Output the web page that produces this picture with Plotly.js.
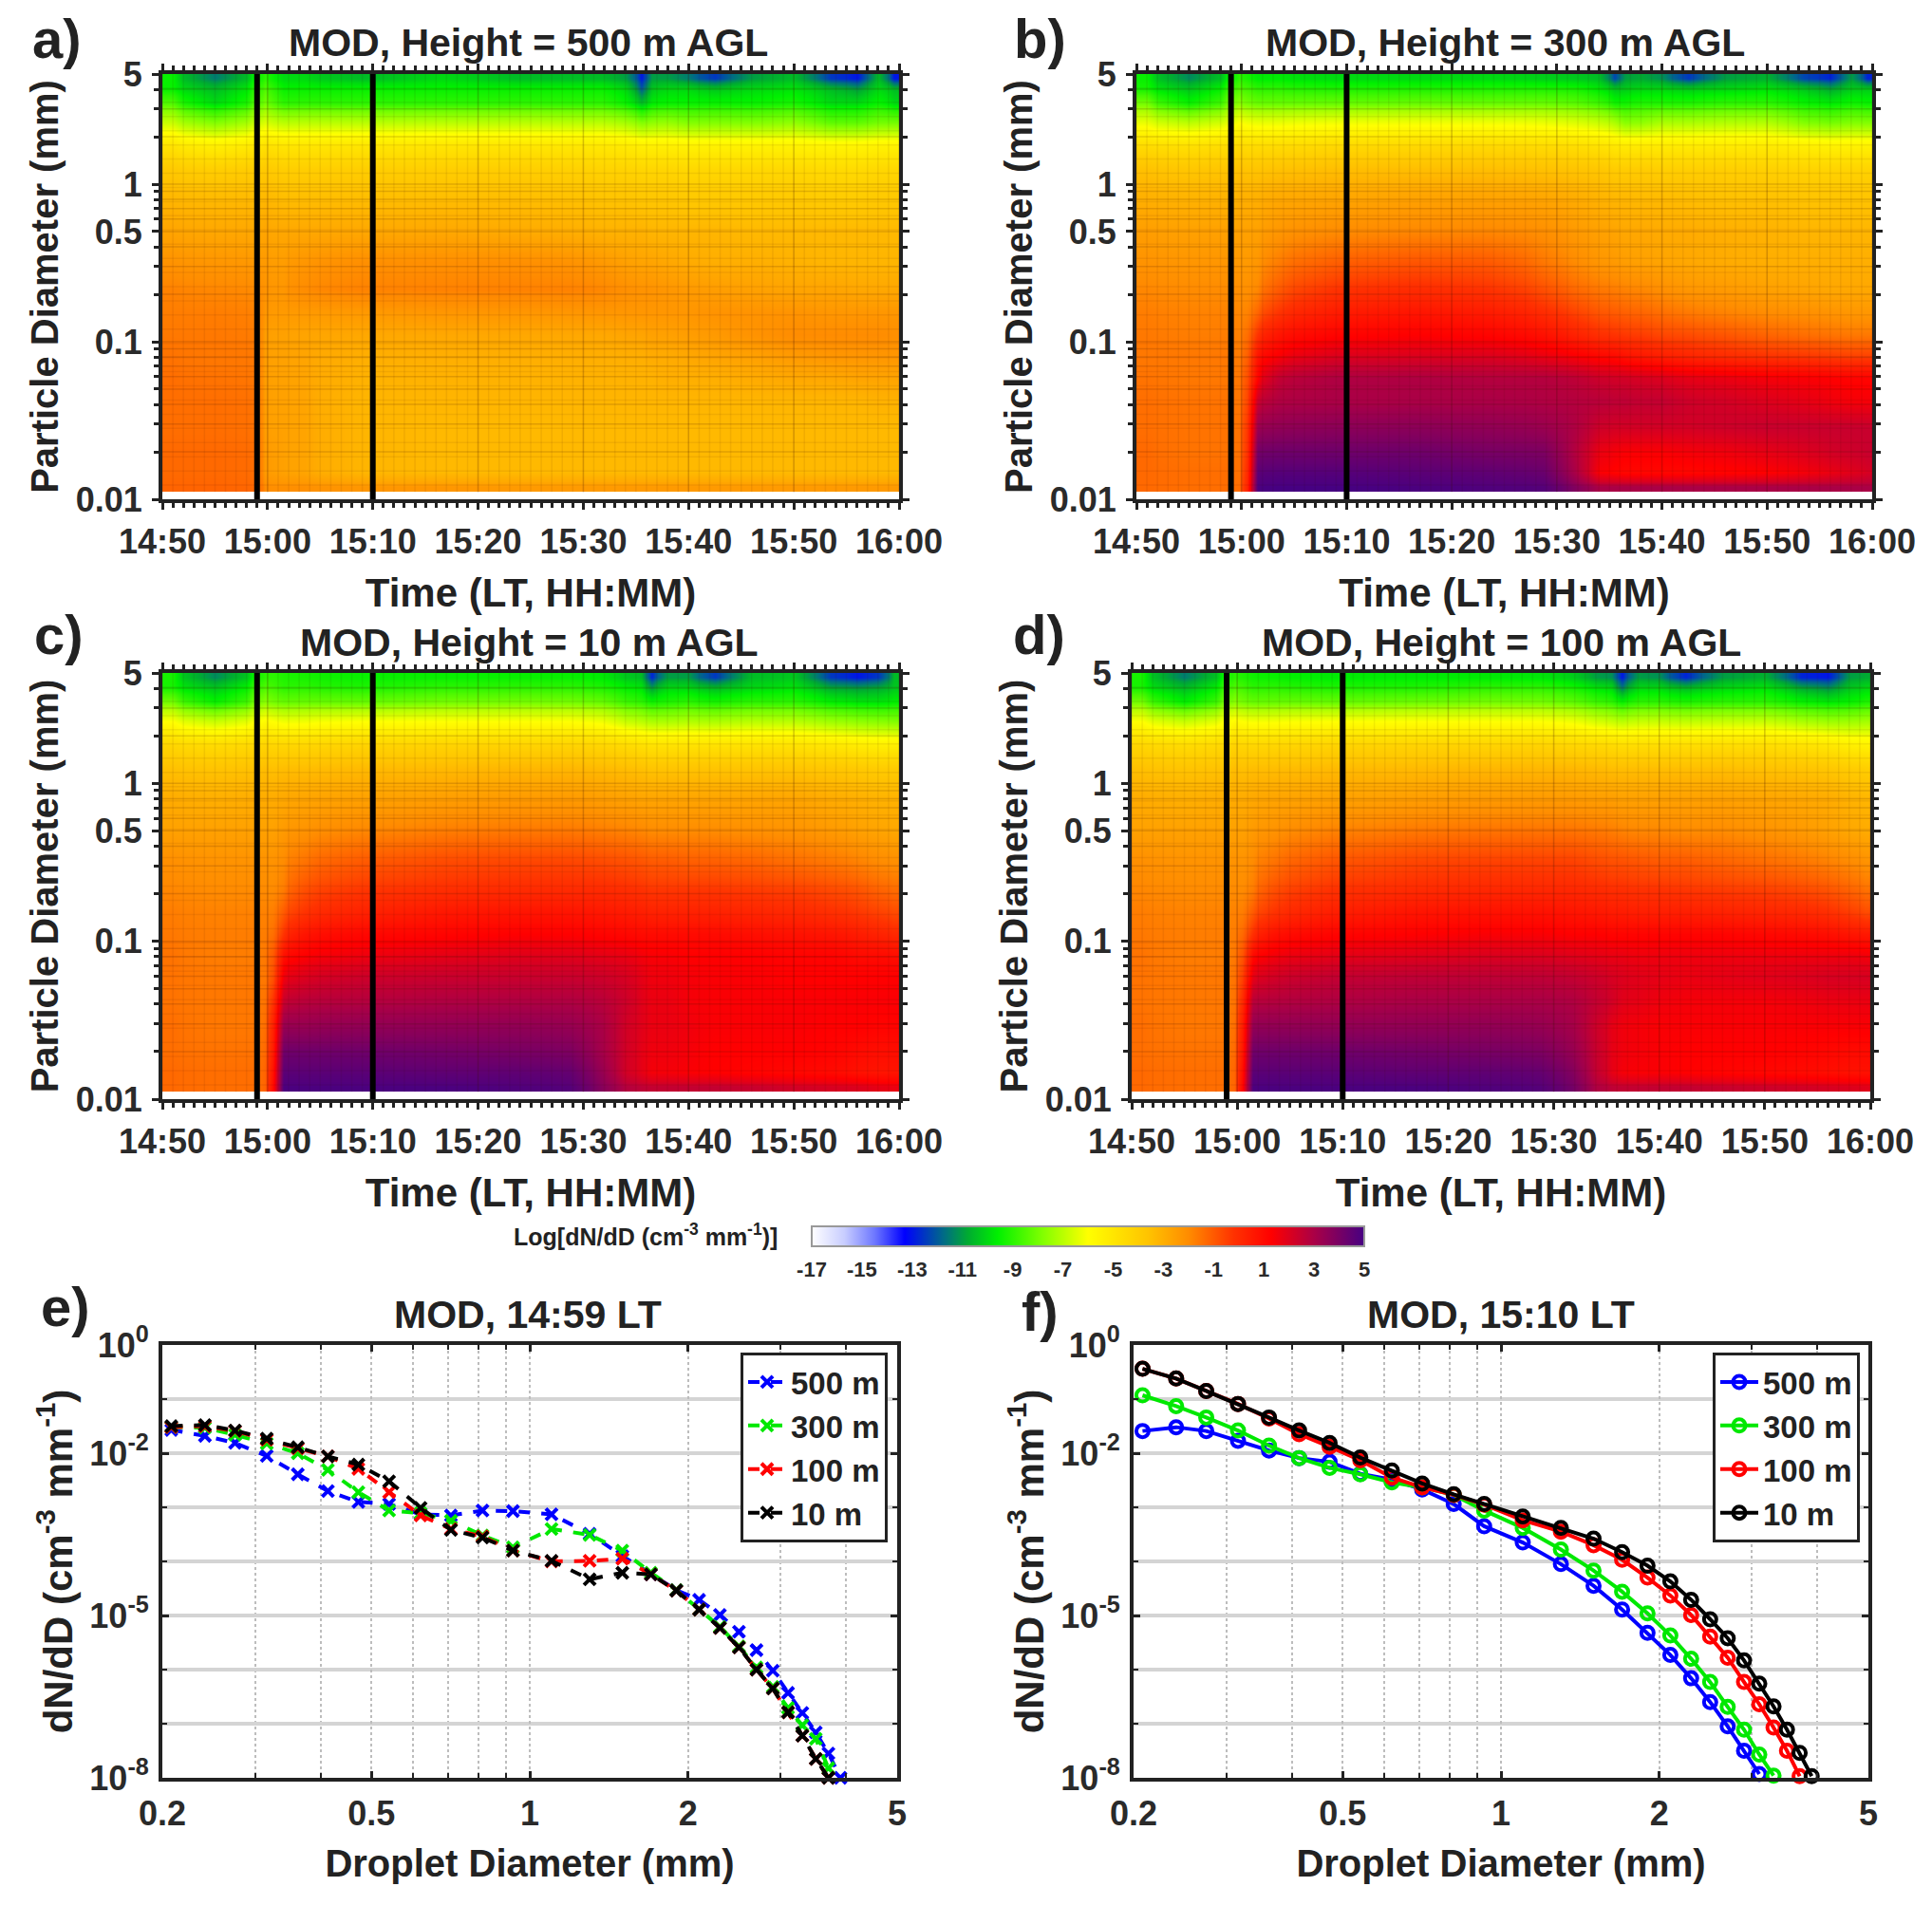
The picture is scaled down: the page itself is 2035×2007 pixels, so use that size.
<!DOCTYPE html>
<html>
<head>
<meta charset="utf-8">
<script src="https://cdn.plot.ly/plotly-3.0.1.min.js"></script>
<style>body{margin:0;background:#fff}</style>
</head>
<body>
<div id="chart"></div>
<script>
var W = 2035, H = 2007;
var FONT = '"Liberation Sans", Arial, sans-serif';

// heatmap cell edges: minutes after 14:50, particle diameter (mm)
var timeEdges = [0,2,8,9.5,10,11,12,15,23,30,37,40.5,43,45,46,47,49,51,54,58,62,65,67,69,70];
var diamEdges = [0.0111,0.013,0.017,0.024,0.035,0.05,0.07,0.095,0.13,0.18,0.26,0.4,0.63,1,1.5,2.1,2.9,3.7,4.4,5];
var markTimes = [9,20];
var timeTicks = [0,10,20,30,40,50,60,70];
var timeLabels = ['14:50','15:00','15:10','15:20','15:30','15:40','15:50','16:00'];
var diamTicks = [0.01,0.1,0.5,1,5];
var diamMinor = [0.02,0.03,0.04,0.05,0.06,0.07,0.08,0.09,0.2,0.3,0.4,0.6,0.7,0.8,0.9,2,3,4];

var z500 = [
[-9.5,-11.5,-9.5,-9,-9.5,-10,-10,-10.5,-10,-10.5,-10.5,-10.5,-11,-13,-11,-11,-11.5,-12.5,-11,-10.5,-12.5,-13,-10.5,-13],
[-9.5,-10.5,-9,-8.5,-9,-9.5,-9.5,-9.5,-9.5,-9.5,-9.5,-9.5,-10,-12,-10.3,-10,-10,-10.3,-10,-9.8,-10.5,-11,-10,-10.5],
[-8.5,-10,-8.5,-8,-8.5,-9,-9,-9,-9,-9,-9,-9,-9.5,-10.5,-9.7,-9.5,-9.5,-9.5,-9.5,-9.3,-10,-10,-9.5,-10],
[-6.8,-7.8,-6.8,-6.5,-6.8,-7,-7,-7,-7,-7,-7,-7,-7.3,-7.8,-7.6,-7.5,-7.8,-7.8,-7.8,-7.6,-8.3,-8.3,-8,-8],
[-4.9,-5.4,-5,-4.8,-4.9,-5,-5,-5,-5,-5,-5.1,-5.1,-5.2,-5.4,-5.4,-5.4,-5.5,-5.5,-5.5,-5.5,-5.6,-5.6,-5.5,-5.5],
[-3.8,-4,-3.9,-3.8,-3.9,-4,-4,-4,-4,-4,-4.1,-4.2,-4.2,-4.3,-4.3,-4.3,-4.4,-4.4,-4.4,-4.4,-4.5,-4.5,-4.4,-4.4],
[-3.2,-3.3,-3.3,-3.2,-3.3,-3.4,-3.4,-3.4,-3.4,-3.4,-3.5,-3.6,-3.6,-3.7,-3.7,-3.7,-3.8,-3.8,-3.8,-3.8,-3.9,-3.9,-3.8,-3.8],
[-2.7,-2.8,-2.8,-2.7,-2.8,-2.8,-2.8,-2.8,-2.8,-2.9,-3,-3.1,-3.1,-3.1,-3.2,-3.2,-3.2,-3.2,-3.3,-3.3,-3.3,-3.3,-3.3,-3.3],
[-2.2,-2.3,-2.4,-2.4,-2.5,-2.5,-2.3,-2.1,-2.1,-2.1,-2.2,-2.4,-2.6,-2.7,-2.7,-2.8,-2.9,-3,-3,-3.1,-3.2,-3.2,-3.2,-3.2],
[-1.8,-1.9,-2,-2.2,-2.3,-2.3,-2,-1.8,-1.8,-1.8,-1.8,-1.9,-2.1,-2.2,-2.2,-2.3,-2.4,-2.5,-2.6,-2.7,-2.7,-2.8,-2.8,-2.8],
[-1.7,-1.7,-1.8,-2.3,-2.4,-2.4,-2.4,-2.4,-2.3,-2.3,-2.3,-2.3,-2.3,-2.3,-2.3,-2.3,-2.3,-2.2,-2.2,-2.2,-2.3,-2.3,-2.3,-2.3],
[-1.6,-1.6,-1.7,-2.5,-2.6,-2.6,-2.7,-2.8,-2.8,-2.8,-2.8,-2.8,-2.7,-2.7,-2.6,-2.6,-2.5,-2.4,-2.2,-2,-2,-2,-2,-2.1],
[-1.5,-1.6,-1.6,-2.5,-2.6,-2.6,-2.7,-3,-3,-3,-3,-3,-3,-3,-2.9,-2.9,-2.8,-2.7,-2.6,-2.4,-2.3,-2.3,-2.3,-2.3],
[-1.4,-1.5,-1.6,-2.5,-2.6,-2.6,-2.7,-3.1,-3.1,-3.1,-3.1,-3.1,-3.1,-3.1,-3.1,-3,-3,-3,-2.9,-2.8,-2.8,-2.7,-2.7,-2.7],
[-1.4,-1.4,-1.5,-2.5,-2.6,-2.6,-2.7,-3.2,-3.2,-3.2,-3.2,-3.2,-3.2,-3.2,-3.2,-3.2,-3.2,-3.2,-3.2,-3.2,-3.2,-3.2,-3.1,-3.1],
[-1.4,-1.4,-1.5,-2.5,-2.6,-2.6,-2.7,-3.2,-3.3,-3.3,-3.3,-3.3,-3.3,-3.3,-3.3,-3.3,-3.3,-3.3,-3.3,-3.3,-3.3,-3.3,-3.3,-3.3],
[-1.3,-1.3,-1.4,-2.4,-2.5,-2.6,-2.7,-3.2,-3.3,-3.3,-3.3,-3.3,-3.3,-3.3,-3.3,-3.3,-3.3,-3.3,-3.3,-3.3,-3.3,-3.3,-3.3,-3.3],
[-1.3,-1.3,-1.4,-2.4,-2.5,-2.6,-2.7,-3.2,-3.3,-3.3,-3.3,-3.3,-3.3,-3.3,-3.3,-3.3,-3.3,-3.3,-3.3,-3.3,-3.3,-3.3,-3.3,-3.3],
[-1.2,-1.2,-1.3,-2,-2.1,-2.1,-2.1,-2.3,-2.3,-2.4,-2.4,-2.4,-2.4,-2.4,-2.4,-2.4,-2.4,-2.4,-2.4,-2.4,-2.4,-2.4,-2.4,-2.4]
];
var z300 = [
[-9.5,-11.3,-9.5,-9,-9.3,-9.7,-9.7,-10,-10,-10,-10.2,-10.3,-10.5,-12.3,-11,-10.8,-11.2,-12.5,-11,-10.7,-12.3,-12.8,-11,-12.8],
[-9.3,-10.3,-8.8,-8.5,-8.7,-9,-9,-9.2,-9.2,-9.2,-9.2,-9.3,-9.7,-10.3,-10.2,-10,-10,-10.2,-10,-9.8,-10.3,-10.8,-10.2,-10.2],
[-8,-9.5,-8,-7.7,-8,-8.2,-8.2,-8.2,-8.2,-8.2,-8.2,-8.4,-8.8,-9.4,-9.4,-9.2,-9.2,-9.2,-9,-9,-9.5,-9.7,-9.4,-9.5],
[-6.3,-7,-6.3,-6,-6.2,-6.3,-6.3,-6.2,-6.2,-6.2,-6.3,-6.5,-6.8,-7.2,-7.7,-7.6,-7.2,-7.2,-7.1,-7.1,-7.8,-8,-7.8,-7.8],
[-4.6,-4.8,-4.6,-4.5,-4.6,-4.6,-4.6,-4.5,-4.5,-4.5,-4.6,-4.7,-4.9,-5.1,-5.2,-5.2,-5.2,-5.2,-5.2,-5.2,-5.4,-5.5,-5.5,-5.5],
[-3.5,-3.7,-3.6,-3.5,-3.6,-3.6,-3.5,-3.4,-3.4,-3.4,-3.5,-3.6,-3.7,-3.9,-3.9,-3.9,-4,-4,-4,-4.1,-4.2,-4.2,-4.2,-4.2],
[-3,-3.1,-3.1,-3,-3,-3,-2.8,-2.7,-2.6,-2.6,-2.7,-2.9,-3.1,-3.2,-3.2,-3.3,-3.3,-3.4,-3.5,-3.5,-3.6,-3.6,-3.6,-3.6],
[-2.5,-2.6,-2.6,-2.6,-2.6,-2.6,-2.3,-2,-1.9,-1.9,-2.1,-2.4,-2.6,-2.7,-2.8,-2.8,-2.9,-2.9,-3,-3.1,-3.2,-3.2,-3.2,-3.2],
[-2.2,-2.3,-2.3,-2.4,-2.4,-2.3,-1.7,-1.1,-.9,-1,-1.6,-2,-2.3,-2.4,-2.5,-2.6,-2.7,-2.8,-2.9,-3,-3,-3,-3,-3],
[-1.9,-2,-2,-2.1,-2.1,-1.9,-1,-.2,0,-.2,-.8,-1.3,-1.6,-1.7,-1.8,-1.9,-2.1,-2.3,-2.4,-2.6,-2.7,-2.8,-2.8,-2.8],
[-1.7,-1.8,-1.8,-1.9,-1.8,-1.2,-.2,.5,.7,.5,0,-.5,-.9,-1,-1.1,-1.2,-1.4,-1.6,-1.8,-2,-2.1,-2.2,-2.3,-2.3],
[-1.6,-1.7,-1.7,-1.8,-1.4,-.2,.7,1.2,1.3,1.2,.8,.3,-.1,-.2,-.3,-.4,-.6,-.7,-.9,-1.2,-1.4,-1.5,-1.6,-1.6],
[-1.6,-1.6,-1.6,-1.7,-1.1,.7,1.4,2,2,2,1.7,1.4,1.1,1,.8,.6,.4,.2,0,-.2,-.3,-.4,-.5,-.5],
[-1.5,-1.6,-1.6,-1.6,-.8,1.2,2.5,2.9,2.9,2.8,2.8,2.6,2.3,2.2,2.2,2.1,2,1.8,1.7,1.5,1.4,1.3,1.2,1.2],
[-1.4,-1.5,-1.5,-1.6,-.6,2.4,2.9,3,3,3,2.9,2.8,2.7,2.6,2.6,2.5,2.5,2.3,2.2,2,1.8,1.6,1.5,1.5],
[-1.4,-1.5,-1.5,-1.5,-.3,3.3,3.5,3.6,3.6,3.5,3.3,2.9,2.3,2.2,2.2,2.2,2.2,2.2,2.3,2.4,2.4,2.4,2.4,2.4],
[-1.3,-1.5,-1.5,-1.5,-.2,4.1,4.2,4.2,4.2,4,3.9,2.8,1.7,1.5,1.4,1.4,1.4,1.5,1.6,1.8,2,2.2,2.3,2.4],
[-1.3,-1.4,-1.4,-1.5,0,4.6,4.7,4.7,4.6,4.5,4.3,3,1.4,1.2,1.1,1.1,1.1,1.1,1.2,1.3,1.5,1.7,1.9,2.1],
[-1.3,-1.4,-1.4,-1.4,.2,4.9,5,5,4.9,4.8,4.7,3.8,3,3,3,3,3,3,3,3,3,3,3,3]
];
var z10 = [
[-9.3,-11.3,-9.3,-9,-9,-9.2,-9.3,-9.5,-9.5,-9.5,-9.5,-9.7,-10.3,-10.5,-12.8,-11,-11,-12.5,-10.5,-10.3,-12.5,-13,-12.5,-10.5],
[-9.3,-10.3,-8.8,-8.5,-8.7,-9,-9,-9.2,-9,-9,-9,-9.2,-9.6,-9.8,-11,-10,-10,-10.5,-10,-9.8,-10.8,-11,-10.8,-10.3],
[-8,-9.5,-8,-7.7,-8,-8.2,-8.2,-8.2,-8,-8,-8,-8.2,-8.8,-9,-9.4,-9.2,-9,-9.3,-9,-9,-9.6,-9.8,-9.8,-9.6],
[-6,-6.8,-6,-5.8,-6,-6.2,-6.2,-6,-6,-6,-6,-6.2,-6.8,-7,-7.2,-7.2,-7.1,-7.2,-7,-7,-7.4,-7.6,-7.7,-7.8],
[-4.4,-4.6,-4.4,-4.3,-4.4,-4.4,-4.4,-4.3,-4.3,-4.3,-4.3,-4.4,-4.6,-4.8,-4.9,-4.9,-4.9,-4.9,-4.9,-4.9,-5.1,-5.3,-5.4,-5.4],
[-3.5,-3.6,-3.5,-3.4,-3.5,-3.4,-3.4,-3.3,-3.3,-3.2,-3.2,-3.3,-3.4,-3.5,-3.6,-3.6,-3.6,-3.6,-3.6,-3.6,-3.7,-3.8,-3.9,-3.9],
[-2.9,-3,-2.9,-2.9,-2.9,-2.8,-2.7,-2.6,-2.5,-2.4,-2.4,-2.5,-2.6,-2.7,-2.7,-2.7,-2.7,-2.7,-2.7,-2.7,-2.9,-3,-3.1,-3.1],
[-2.6,-2.6,-2.6,-2.6,-2.6,-2.4,-2.2,-1.9,-1.7,-1.6,-1.6,-1.7,-1.8,-1.9,-2,-2,-2,-2,-2.1,-2.2,-2.4,-2.6,-2.7,-2.8],
[-2.1,-2.2,-2.2,-2.2,-2.2,-2,-1.5,-1,-.7,-.6,-.6,-.7,-.8,-.9,-1,-1,-1.1,-1.1,-1.2,-1.4,-1.6,-1.8,-2,-2.1],
[-1.9,-2,-2,-2,-2,-1.7,-.8,-.3,-.1,0,0,0,-.1,-.2,-.3,-.3,-.3,-.3,-.4,-.5,-.7,-.9,-1.2,-1.4],
[-1.7,-1.8,-1.8,-1.8,-1.7,-1,-.2,.3,.6,.7,.7,.6,.5,.4,.3,.3,.3,.3,.2,.1,-.1,-.3,-.5,-.7],
[-1.6,-1.7,-1.7,-1.7,-1.4,-.2,.7,1.1,1.2,1.3,1.3,1.2,1.1,1,1,1,1,1,.9,.8,.7,.5,.3,.1],
[-1.5,-1.7,-1.7,-1.6,-1,.8,1.3,1.6,1.8,1.9,1.9,1.8,1.7,1.5,1.4,1.4,1.3,1.3,1.3,1.2,1.2,1,1,.9],
[-1.5,-1.6,-1.6,-1.6,-.8,1.6,2,2.3,2.4,2.4,2.4,2.3,2.1,1.8,1.6,1.6,1.5,1.4,1.4,1.3,1.3,1.3,1.3,1.3],
[-1.5,-1.6,-1.6,-1.5,-.2,2.4,2.7,2.8,2.9,2.9,2.9,2.7,2.3,1.9,1.7,1.7,1.5,1.4,1.4,1.4,1.4,1.4,1.4,1.4],
[-1.4,-1.6,-1.6,-1.4,.3,3.4,3.4,3.5,3.5,3.5,3.4,3,2.2,1.9,1.7,1.7,1.6,1.4,1.4,1.4,1.3,1.3,1.2,1.2],
[-1.4,-1.5,-1.5,-1.3,.5,4.2,4.2,4.2,4.1,4,3.9,3.1,2.2,1.8,1.6,1.6,1.5,1.3,1.3,1.3,1.2,1,.9,.9],
[-1.3,-1.4,-1.4,-1.2,.8,4.6,4.6,4.6,4.5,4.5,4.4,3.4,2.2,1.8,1.5,1.5,1.4,1.3,1.2,1.1,1,.8,.7,.7],
[-1.3,-1.4,-1.4,-1.2,1,4.9,4.9,4.9,4.9,4.8,4.7,3.7,2.8,2.6,2.5,2.5,2.5,2.5,2.4,2.2,2.1,2,1.8,1.7]
];
var z100 = [
[-9.3,-11.5,-9.3,-9,-9.2,-9.4,-9.5,-9.7,-9.7,-9.7,-9.8,-10.2,-11,-11.2,-13,-11,-11.2,-12.8,-11,-10.7,-12.8,-13,-11,-10.8],
[-9.3,-10.5,-8.8,-8.5,-8.7,-9,-9,-9.2,-9.2,-9,-9,-9.3,-9.8,-10,-11.5,-10,-10,-10.5,-10,-9.8,-10.8,-11.2,-10.3,-10],
[-8,-9.6,-8,-7.7,-8,-8.2,-8.2,-8.2,-8.1,-8,-8,-8.3,-8.8,-9,-9.5,-9,-9,-9.2,-9,-9,-9.5,-9.7,-9.5,-9.2],
[-6,-6.8,-6,-5.8,-6,-6.1,-6.1,-6,-6,-6,-6,-6.2,-6.6,-6.8,-7,-6.8,-6.8,-6.9,-6.8,-6.8,-7.2,-7.4,-7.4,-7.3],
[-4.4,-4.6,-4.4,-4.3,-4.4,-4.4,-4.4,-4.3,-4.3,-4.3,-4.3,-4.4,-4.5,-4.6,-4.7,-4.7,-4.7,-4.7,-4.7,-4.7,-4.9,-5.1,-5.4,-5.5],
[-3.5,-3.6,-3.5,-3.4,-3.5,-3.4,-3.4,-3.3,-3.3,-3.2,-3.2,-3.2,-3.3,-3.4,-3.4,-3.4,-3.4,-3.4,-3.4,-3.5,-3.6,-3.7,-3.9,-4],
[-2.9,-3,-2.9,-2.9,-2.9,-2.8,-2.7,-2.6,-2.5,-2.4,-2.4,-2.4,-2.5,-2.5,-2.6,-2.6,-2.6,-2.6,-2.6,-2.7,-2.8,-2.9,-3.1,-3.2],
[-2.6,-2.6,-2.6,-2.6,-2.6,-2.4,-2.2,-1.8,-1.6,-1.5,-1.5,-1.5,-1.6,-1.7,-1.8,-1.9,-1.9,-2,-2,-2.2,-2.4,-2.6,-2.8,-2.9],
[-2.1,-2.2,-2.2,-2.2,-2.2,-2,-1.5,-.9,-.6,-.5,-.5,-.5,-.7,-.8,-.8,-.9,-1,-1,-1.2,-1.4,-1.6,-1.8,-2,-2.2],
[-1.9,-2,-2,-2,-2,-1.7,-.8,-.2,0,.1,.1,.1,0,-.1,-.1,-.2,-.2,-.3,-.4,-.5,-.7,-.9,-1.2,-1.5],
[-1.7,-1.8,-1.8,-1.8,-1.7,-1,-.2,.4,.7,.8,.8,.7,.6,.5,.5,.4,.4,.4,.3,.2,.1,-.1,-.4,-.7],
[-1.6,-1.7,-1.7,-1.7,-1.3,-.1,.8,1.2,1.3,1.4,1.4,1.3,1.3,1.2,1.2,1.2,1.2,1.2,1.2,1.1,1,.9,.7,.6],
[-1.5,-1.7,-1.7,-1.6,-.9,1,1.5,1.8,1.9,2,2,1.9,1.8,1.7,1.7,1.6,1.6,1.6,1.6,1.6,1.6,1.6,1.6,1.5],
[-1.5,-1.6,-1.6,-1.5,-.5,1.8,2.2,2.5,2.6,2.6,2.6,2.5,2.3,2.1,2,1.9,1.8,1.7,1.8,1.9,2,2.1,2.1,2.1],
[-1.5,-1.6,-1.6,-1.5,0,2.7,2.8,2.9,3,3,3,2.9,2.5,2.2,1.9,1.8,1.6,1.5,1.5,1.5,1.6,1.7,1.7,1.7],
[-1.4,-1.6,-1.6,-1.4,.4,3.5,3.5,3.5,3.5,3.5,3.4,3.1,2.3,1.8,1.6,1.5,1.4,1.4,1.4,1.4,1.4,1.4,1.4,1.4],
[-1.4,-1.5,-1.5,-1.3,.6,4.2,4.2,4.2,4.1,4,3.9,3.4,2.4,1.8,1.6,1.5,1.4,1.3,1.3,1.3,1.2,1.1,1,1],
[-1.3,-1.4,-1.4,-1.2,.9,4.6,4.6,4.6,4.5,4.5,4.4,3.8,2.5,1.8,1.5,1.4,1.4,1.3,1.2,1.1,1,.9,.8,.8],
[-1.3,-1.4,-1.4,-1.2,1.1,4.9,4.9,4.9,4.9,4.8,4.7,4.1,2.9,2.6,2.5,2.5,2.5,2.5,2.4,2.3,2.2,2.1,2,1.9]
];

// size distributions, log10 of dN/dD at each droplet bin
var dropDiam = [0.208,0.241,0.275,0.316,0.362,0.413,0.472,0.54,0.62,0.708,0.813,0.929,1.1,1.3,1.5,1.7,1.9,2.1,2.3,2.5,2.7,2.9,3.1,3.3,3.5,3.7,3.9];
var e500 = [-1.57,-1.68,-1.81,-2.05,-2.39,-2.70,-2.90,-2.94,-3.13,-3.15,-3.06,-3.07,-3.13,-3.49,-3.90,-4.24,-4.53,-4.71,-4.99,-5.30,-5.64,-6.02,-6.43,-6.80,-7.16,-7.55,-8];
var e300 = [-1.52,-1.53,-1.66,-1.82,-2.0,-2.31,-2.72,-3.06,-3.11,-3.25,-3.52,-3.74,-3.40,-3.51,-3.80,-4.21,-4.53,-4.89,-5.21,-5.57,-5.96,-6.32,-6.71,-7.03,-7.28,-7.82];
var e100 = [-1.52,-1.50,-1.59,-1.75,-1.91,-2.06,-2.29,-2.72,-3.15,-3.40,-3.54,-3.80,-4.0,-3.99,-3.95,-4.24,-4.54,-4.89,-5.23,-5.59,-6.0,-6.35,-6.79,-7.22,-7.65,-8];
var e10 = [-1.50,-1.48,-1.58,-1.73,-1.89,-2.06,-2.21,-2.52,-3.01,-3.42,-3.56,-3.80,-3.99,-4.33,-4.21,-4.24,-4.54,-4.89,-5.23,-5.59,-6.0,-6.35,-6.79,-7.22,-7.65,-8];
var f500 = [-1.59,-1.52,-1.59,-1.77,-1.95,-2.09,-2.16,-2.38,-2.49,-2.67,-2.94,-3.35,-3.65,-4.05,-4.45,-4.89,-5.32,-5.73,-6.16,-6.60,-7.05,-7.50,-7.93];
var f300 = [-0.93,-1.13,-1.34,-1.58,-1.86,-2.09,-2.27,-2.39,-2.54,-2.63,-2.77,-3.06,-3.38,-3.78,-4.17,-4.56,-4.96,-5.37,-5.80,-6.23,-6.69,-7.11,-7.57,-7.96];
var f100 = [-0.44,-0.62,-0.85,-1.09,-1.36,-1.65,-1.88,-2.13,-2.45,-2.63,-2.77,-2.95,-3.24,-3.45,-3.70,-3.97,-4.30,-4.63,-4.99,-5.39,-5.78,-6.23,-6.64,-7.07,-7.50,-7.97];
var f10 = [-0.44,-0.62,-0.85,-1.09,-1.34,-1.58,-1.81,-2.08,-2.32,-2.56,-2.76,-2.94,-3.17,-3.38,-3.58,-3.83,-4.08,-4.37,-4.71,-5.07,-5.42,-5.83,-6.26,-6.68,-7.11,-7.54,-7.97];
var dropTicks = [0.2,0.5,1,2,5];
var dropMinor = [0.3,0.4,0.6,0.7,0.8,0.9,3,4];
var countTicks = [1,1e-2,1e-5,1e-8];
var countMinor = [1e-1,1e-3,1e-4,1e-6,1e-7];
var countLabels = ['10<sup>0</sup>','10<sup>-2</sup>','10<sup>-5</sup>','10<sup>-8</sup>'];

var colorTicks = [-17,-15,-13,-11,-9,-7,-5,-3,-1,1,3,5];
var colorStops = [[-17,'#ffffff'],[-15.7,'#c8cdff'],[-14.5,'#6e78ff'],[-13.3,'#0000ff'],[-11.7,'#006e82'],[-10.8,'#00aa32'],[-9.6,'#00f000'],[-7.8,'#82ff00'],[-6,'#ffff00'],[-3.6,'#ffc300'],[-2,'#ff8c00'],[-0.2,'#ff3200'],[1.3,'#ff0000'],[3,'#aa0046'],[5,'#460082']];

function pow10(list) { return list.map(function (v) { return Math.pow(10, v); }); }
function xdom(l, r) { return [l / W, r / W]; }
function ydom(t, b) { return [1 - b / H, 1 - t / H]; }
function baseAxis(extra) {
    var ax = {
        showline: true, linecolor: '#222', linewidth: 4, mirror: 'allticks',
        ticks: 'outside', ticklen: 7, tickwidth: 3, tickcolor: '#222', ticklabelstandoff: 3,
        tickfont: {family: FONT, size: 36, color: '#2a2a2a', weight: 'bold'},
        zeroline: false, showgrid: false, automargin: false
    };
    for (var k in extra) ax[k] = extra[k];
    return ax;
}
function axisTitle(text, standoff, size) {
    return {text: text, standoff: standoff, font: {family: FONT, size: size, color: '#222', weight: 'bold'}};
}

var traces = [], layout = {
    width: W, height: H, margin: {l: 0, r: 0, t: 0, b: 0},
    paper_bgcolor: '#fff', plot_bgcolor: '#fff', showlegend: true,
    coloraxis: {
        cmin: -17, cmax: 5,
        colorscale: colorStops.map(function (s) { return [(s[0] + 17) / 22, s[1]]; }),
        colorbar: {
            orientation: 'h', x: 855 / W, xanchor: 'left', y: 1 - 1292 / H, yanchor: 'top',
            lenmode: 'pixels', len: 582, thicknessmode: 'pixels', thickness: 21, xpad: 0, ypad: 0,
            tickmode: 'array', tickvals: colorTicks, ticktext: colorTicks.map(String), ticks: 'outside', ticklen: 5,
            tickcolor: 'rgba(0,0,0,0)', tickfont: {family: FONT, size: 22, color: '#2a2a2a', weight: 'bold'}, outlinecolor: '#999', outlinewidth: 2
        }
    },
    annotations: [], legend: {}, legend2: {}
};

function note(text, x, y, size) {
    layout.annotations.push({
        text: '<b>' + text + '</b>', xref: 'paper', yref: 'paper', x: x / W, y: 1 - y / H,
        xanchor: 'center', yanchor: 'middle', showarrow: false, font: {family: FONT, size: size, color: '#222'}
    });
}

// cell outlines and the minor grid that sit on top of the colours
function gridOverlay(xa, ya, alpha, xs, ys) {
    var gx = [], gy = [];
    xs.forEach(function (v) { gx.push(v, v, null); gy.push(0.0111, 5, null); });
    ys.forEach(function (v) { gx.push(0, 70, null); gy.push(v, v, null); });
    return {x: gx, y: gy, xaxis: xa, yaxis: ya, type: 'scatter', mode: 'lines', showlegend: false, hoverinfo: 'skip',
        line: {color: 'rgba(60,20,0,' + alpha + ')', width: 1.5}};
}

var minuteLines = [], rowLines = [];
for (var m = 1; m < 70; m++) minuteLines.push(m);
for (var r = 1; r < 30; r++) rowLines.push(0.01 * Math.pow(500, r / 30));

function heatPanel(n, zRows, box, title, titleXY, letter, letterXY) {
    var xa = 'x' + n, ya = 'y' + n;
    traces.push({
        type: 'heatmap', x: timeEdges, y: diamEdges, z: zRows.slice().reverse(), xaxis: xa, yaxis: ya,
        coloraxis: 'coloraxis', zsmooth: 'best', showlegend: false
    });
    traces.push(gridOverlay(xa, ya, 0.07, minuteLines, rowLines));
    traces.push(gridOverlay(xa, ya, 0.16, timeTicks, diamMinor.concat([0.1, 0.5, 1])));
    markTimes.forEach(function (t) {
        traces.push({x: [t, t], y: [0.01, 5], xaxis: xa, yaxis: ya, type: 'scatter', mode: 'lines', showlegend: false,
            line: {color: '#000', width: 6}});
    });
    layout['xaxis' + n] = baseAxis({
        domain: xdom(box[0], box[1]), anchor: ya, range: [0, 70], tickmode: 'array', tickvals: timeTicks, ticktext: timeLabels,
        minor: {dtick: 1, ticks: 'outside', ticklen: 5, tickwidth: 3, tickcolor: '#222', showgrid: false},
        title: axisTitle('Time (LT, HH:MM)', 20, 42)
    });
    layout['yaxis' + n] = baseAxis({
        domain: ydom(box[2], box[3]), anchor: xa, type: 'log', range: [-2, Math.log10(5)], tickmode: 'array',
        tickvals: diamTicks, ticktext: diamTicks.map(String),
        minor: {tickmode: 'array', tickvals: diamMinor, ticks: 'outside', ticklen: 5, tickwidth: 3, tickcolor: '#222', showgrid: false},
        title: axisTitle('Particle Diameter (mm)', 7, 40)
    });
    note(title, titleXY[0], titleXY[1], 41);
    note(letter, letterXY[0], letterXY[1], 58);
}

function sizePanel(n, series, symbol, dash, msize, box, legendName, legendX, title, titleXY, letter, letterXY) {
    var xa = 'x' + n, ya = 'y' + n;
    series.forEach(function (s) {
        traces.push({
            x: dropDiam.slice(0, s.y.length), y: pow10(s.y), xaxis: xa, yaxis: ya, name: s.name, type: 'scatter', mode: 'lines+markers',
            legend: legendName, line: {color: s.color, width: 4, dash: dash},
            marker: {color: s.color, symbol: symbol, size: msize, line: {color: s.color, width: 4}}, cliponaxis: false
        });
    });
    layout['xaxis' + n] = baseAxis({
        domain: xdom(box[0], box[1]), anchor: ya, type: 'log', range: [Math.log10(0.2), Math.log10(5)], tickmode: 'array',
        tickvals: dropTicks, ticktext: dropTicks.map(String), ticks: 'inside', ticklen: 7, showgrid: true, gridcolor: '#bdbdbd', griddash: 'dot', gridwidth: 2,
        minor: {tickmode: 'array', tickvals: dropMinor, ticks: 'inside', ticklen: 5, tickwidth: 2, tickcolor: '#222', showgrid: true, gridcolor: '#bdbdbd', griddash: 'dot', gridwidth: 2},
        title: axisTitle('Droplet Diameter (mm)', 20, 40)
    });
    layout['yaxis' + n] = baseAxis({
        domain: ydom(box[2], box[3]), anchor: xa, type: 'log', range: [-8, 0], tickmode: 'array',
        tickvals: countTicks, ticktext: countLabels, ticks: 'inside', ticklen: 7, showgrid: true, gridcolor: '#d4d4d4', gridwidth: 4,
        minor: {tickmode: 'array', tickvals: countMinor, ticks: 'inside', ticklen: 5, tickwidth: 2, tickcolor: '#222', showgrid: true, gridcolor: '#d4d4d4', gridwidth: 4},
        title: axisTitle('dN/dD (cm<sup>-3</sup> mm<sup>-1</sup>)', 6, 42)
    });
    layout[legendName] = {
        x: legendX / W, xanchor: 'right', y: 1 - 1425 / H, yanchor: 'top', bgcolor: '#fff', bordercolor: '#222', borderwidth: 3,
        font: {family: FONT, size: 33, color: '#222', weight: 'bold'}, itemwidth: 40, tracegroupgap: 0
    };
    note(title, titleXY[0], titleXY[1], 41);
    note(letter, letterXY[0], letterXY[1], 58);
}

heatPanel('', z500, [171, 947, 78, 526], 'MOD, Height = 500 m AGL', [556, 45], 'a)', [60, 40]);
heatPanel(2, z300, [1197, 1972, 78, 526], 'MOD, Height = 300 m AGL', [1585, 45], 'b)', [1095, 40]);
heatPanel(3, z10, [171, 947, 709, 1158], 'MOD, Height = 10 m AGL', [557, 677], 'c)', [62, 669]);
heatPanel(4, z100, [1192, 1970, 709, 1158], 'MOD, Height = 100 m AGL', [1581, 677], 'd)', [1094, 669]);

var lineColors = {b: '#0000ff', g: '#00e800', r: '#ff0000', k: '#000000'};
sizePanel(5, [
    {name: '500 m', y: e500, color: lineColors.b}, {name: '300 m', y: e300, color: lineColors.g},
    {name: '100 m', y: e100, color: lineColors.r}, {name: '10 m', y: e10, color: lineColors.k}
], 'x-thin', 'dash', 12, [171, 945, 1417, 1873], 'legend', 935, 'MOD, 14:59 LT', [556, 1385], 'e)', [69, 1376]);
sizePanel(6, [
    {name: '500 m', y: f500, color: lineColors.b}, {name: '300 m', y: f300, color: lineColors.g},
    {name: '100 m', y: f100, color: lineColors.r}, {name: '10 m', y: f10, color: lineColors.k}
], 'circle-open', 'solid', 13, [1194, 1968, 1417, 1873], 'legend2', 1959, 'MOD, 15:10 LT', [1581, 1385], 'f)', [1095, 1381]);

note('Log[dN/dD (cm<sup>-3</sup> mm<sup>-1</sup>)]', 680, 1301, 25);

Plotly.newPlot('chart', traces, layout, {displayModeBar: false, staticPlot: true});
</script>
</body>
</html>
